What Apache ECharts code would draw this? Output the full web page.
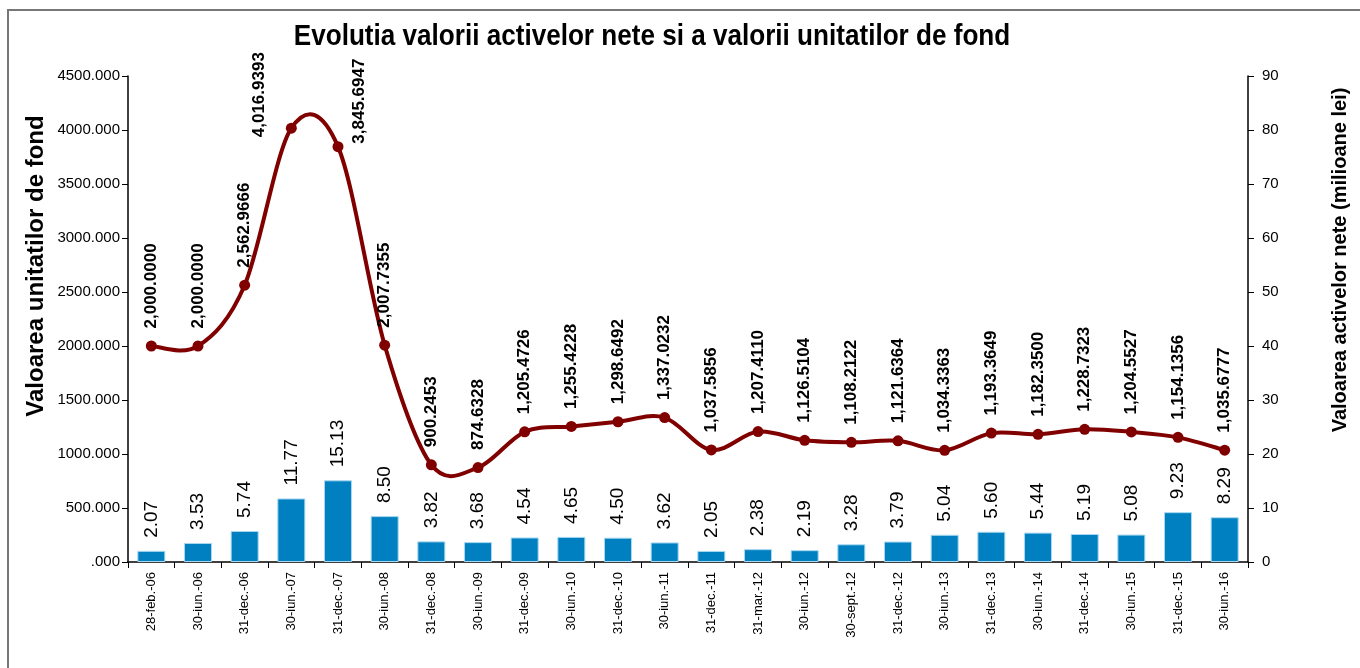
<!DOCTYPE html>
<html>
<head>
<meta charset="utf-8">
<script src="https://cdn.jsdelivr.net/npm/echarts@6/dist/echarts.min.js"></script>
<style>
  html, body { margin: 0; padding: 0; background: #fff; }
  #chart { width: 1360px; height: 668px; }
</style>
</head>
<body>
<div id="chart"></div>
<script>
// categories (dates)
const dates = ['28-feb.-06', '30-iun.-06', '31-dec.-06', '30-iun.-07', '31-dec.-07', '30-iun.-08',
  '31-dec.-08', '30-iun.-09', '31-dec.-09', '30-iun.-10', '31-dec.-10', '30-iun.-11', '31-dec.-11',
  '31-mar.-12', '30-iun.-12', '30-sept.-12', '31-dec.-12', '30-iun.-13', '31-dec.-13', '30-iun.-14',
  '31-dec.-14', '30-iun.-15', '31-dec.-15', '30-iun.-16'];

// valoarea unitatii de fond (left axis)
const unitValue = [2000.0000, 2000.0000, 2562.9666, 4016.9393, 3845.6947, 2007.7355, 900.2453,
  874.6328, 1205.4726, 1255.4228, 1298.6492, 1337.0232, 1037.5856, 1207.4110, 1126.5104,
  1108.2122, 1121.6364, 1034.3363, 1193.3649, 1182.3500, 1228.7323, 1204.5527, 1154.1356, 1035.6777];

// valoarea activelor nete, milioane lei (right axis)
const netAssets = [2.07, 3.53, 5.74, 11.77, 15.13, 8.50, 3.82, 3.68, 4.54, 4.65, 4.50, 3.62, 2.05,
  2.38, 2.19, 3.28, 3.79, 5.04, 5.60, 5.44, 5.19, 5.08, 9.23, 8.29];

const font = '"Liberation Sans", Arial, sans-serif';
const lineColor = '#800000';

// the two peak labels sit beside their points instead of above
const sideLabels = {
  3: { position: [-27, -28], align: 'center' },
  4: { position: [27, -40], align: 'center' }
};

function fmtUnit(v) {
  const parts = v.toFixed(4).split('.');
  return parts[0].replace(/\B(?=(\d{3})+(?!\d))/g, ',') + '.' + parts[1];
}

// excel-like smoothed segment between point i and i+1
function renderCurve(params, api) {
  const n = unitValue.length;
  const i = params.dataIndex;
  if (i >= n - 1) return null;
  const pt = k => {
    const j = Math.max(0, Math.min(n - 1, k));
    return api.coord([j, unitValue[j]]);
  };
  const p0 = pt(i - 1), p1 = pt(i), p2 = pt(i + 1), p3 = pt(i + 2);
  return {
    type: 'bezierCurve',
    shape: {
      x1: p1[0], y1: p1[1], x2: p2[0], y2: p2[1],
      cpx1: p1[0] + (p2[0] - p0[0]) / 6, cpy1: p1[1] + (p2[1] - p0[1]) / 6,
      cpx2: p2[0] - (p3[0] - p1[0]) / 6, cpy2: p2[1] - (p3[1] - p1[1]) / 6
    },
    style: { stroke: lineColor, lineWidth: 4, fill: null, lineCap: 'round' }
  };
}

const lineData = unitValue.map((v, i) => sideLabels[i]
  ? { value: v, label: Object.assign({ verticalAlign: 'middle' }, sideLabels[i]) }
  : v);

const chart = echarts.init(document.getElementById('chart'));

const option = {
  animation: false,
  backgroundColor: '#fff',
  textStyle: { fontFamily: font },
  grid: { left: 128, right: 112, top: 76, bottom: 106 },
  graphic: [
    {
      type: 'rect',
      shape: { x: 8, y: 10, width: 1400, height: 700 },
      style: { fill: 'none', stroke: '#777', lineWidth: 2 },
      silent: true
    },
    {
      type: 'text',
      x: 652, y: 37, scaleX: 0.87,
      style: {
        text: 'Evolutia valorii activelor nete si a valorii unitatilor de fond',
        font: 'bold 30px ' + font, fill: '#000',
        align: 'center', verticalAlign: 'middle'
      }
    },
    {
      type: 'text',
      x: 36, y: 266, rotation: Math.PI / 2,
      style: {
        text: 'Valoarea unitatilor de fond',
        font: 'bold 24px ' + font, fill: '#000',
        align: 'center', verticalAlign: 'middle'
      }
    },
    {
      type: 'text',
      x: 1340, y: 260, rotation: Math.PI / 2,
      style: {
        text: 'Valoarea activelor nete (milioane lei)',
        font: 'bold 20px ' + font, fill: '#000',
        align: 'center', verticalAlign: 'middle'
      }
    }
  ],
  xAxis: {
    type: 'category',
    data: dates,
    axisLine: { lineStyle: { color: '#000', width: 1.5 } },
    axisTick: { show: true, length: 6, lineStyle: { color: '#000' } },
    axisLabel: { rotate: 90, margin: 10, fontSize: 13, color: '#000' }
  },
  yAxis: [
    {
      type: 'value',
      min: 0, max: 4500, interval: 500,
      splitLine: { show: false },
      axisLine: { show: true, lineStyle: { color: '#000', width: 1.5 } },
      axisTick: { show: true, length: 6, lineStyle: { color: '#000' } },
      axisLabel: {
        fontSize: 15, color: '#000', margin: 8,
        formatter: v => v === 0 ? '.000' : v.toFixed(3)
      }
    },
    {
      type: 'value',
      min: 0, max: 90, interval: 10,
      splitLine: { show: false },
      axisLine: { show: true, lineStyle: { color: '#000', width: 1.5 } },
      axisTick: { show: true, length: 6, lineStyle: { color: '#000' } },
      axisLabel: { fontSize: 15, color: '#000', margin: 14 }
    }
  ],
  series: [
    {
      name: 'Valoarea activelor nete',
      type: 'bar',
      yAxisIndex: 1,
      data: netAssets,
      barCategoryGap: '40%',
      itemStyle: { color: '#0080c0', borderColor: '#a8d8f0', borderWidth: 1 },
      label: {
        show: true, position: 'top', rotate: 90, align: 'left', verticalAlign: 'middle',
        distance: 13, fontSize: 19, color: '#000',
        formatter: p => p.value.toFixed(2)
      },
      z: 2
    },
    {
      name: 'curba',
      type: 'custom',
      yAxisIndex: 0,
      data: unitValue.map((v, i) => [i, v]),
      encode: { x: 0, y: 1 },
      renderItem: renderCurve,
      silent: true,
      z: 3
    },
    {
      name: 'Valoarea unitatii de fond',
      type: 'line',
      yAxisIndex: 0,
      data: lineData,
      symbol: 'circle',
      symbolSize: 11,
      lineStyle: { width: 0, opacity: 0 },
      itemStyle: { color: lineColor },
      label: {
        show: true, position: 'top', rotate: 90, align: 'left', verticalAlign: 'middle',
        distance: 12, fontSize: 17, fontWeight: 'bold', color: '#000',
        formatter: p => fmtUnit(p.value)
      },
      z: 4
    }
  ]
};

chart.setOption(option);
</script>
</body>
</html>
